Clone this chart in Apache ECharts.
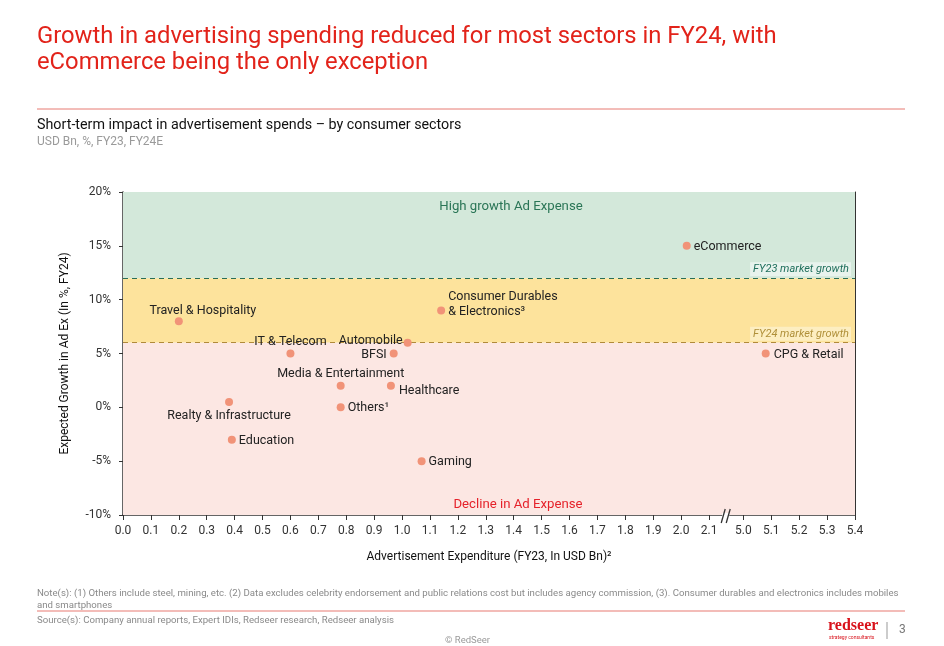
<!DOCTYPE html>
<html>
<head>
<meta charset="utf-8">
<script src="https://cdn.jsdelivr.net/npm/echarts@6/dist/echarts.min.js"></script>
<style>
html,body{margin:0;padding:0;background:#fff;}
#chart{width:944px;height:646px;}
</style>
</head>
<body>
<div id="chart"></div>
<script>
// ---- data ----
const sectors = ['Travel & Hospitality','IT & Telecom','Automobile','BFSI','Media & Entertainment','Healthcare','Others¹','Realty & Infrastructure','Education','Gaming','Consumer Durables\n& Electronics³','eCommerce','CPG & Retail'];
const adSpendFY23 = [0.20, 0.60, 1.02, 0.97, 0.78, 0.96, 0.78, 0.38, 0.39, 1.07, 1.14, 2.02, 5.08];
const growthFY24 = [8, 5, 6, 5, 2, 2, 0, 0.5, -3, -5, 9, 15, 5];
const xTickValues = [0.0,0.1,0.2,0.3,0.4,0.5,0.6,0.7,0.8,0.9,1.0,1.1,1.2,1.3,1.4,1.5,1.6,1.7,1.8,1.9,2.0,2.1,5.0,5.1,5.2,5.3,5.4];
const xTickLabels = ['0.0','0.1','0.2','0.3','0.4','0.5','0.6','0.7','0.8','0.9','1.0','1.1','1.2','1.3','1.4','1.5','1.6','1.7','1.8','1.9','2.0','2.1','5.0','5.1','5.2','5.3','5.4'];
const yTickMin = -10, yTickMax = 20, yTickStep = 5;
const fy23MarketGrowth = 12;
const fy24MarketGrowth = 6;

// ---- axis break mapping (2.1 ... 5.0) ----
const BREAK_FROM = 2.1, BREAK_TO = 5.0, BREAK_POS = 2.223;
function toAxis(v){ return v > (BREAK_FROM + BREAK_TO)/2 ? v - BREAK_TO + BREAK_POS : v; }

// ---- label layout (presentation only) ----
const labelLayout = {
  'Travel & Hospitality': [24,-10,'center'],
  'IT & Telecom': [0,-12,'center'],
  'Automobile': [-5,-2,'right'],
  'BFSI': [-7,1,'right'],
  'Media & Entertainment': [0,-12,'center'],
  'Healthcare': [8,5,'left'],
  'Others¹': [7,1,'left'],
  'Realty & Infrastructure': [0,14,'center'],
  'Education': [7,1,'left'],
  'Gaming': [7,1,'left'],
  'Consumer Durables\n& Electronics³': [7,-6,'left'],
  'eCommerce': [7,1,'left'],
  'CPG & Retail': [8,1,'left']
};

const axisTickPos = xTickValues.map(toAxis);
const axisMax = toAxis(xTickValues[xTickValues.length-1]);

const points = sectors.map((s,i)=>{
  const l = labelLayout[s];
  return {
    name: s,
    value: [toAxis(adSpendFY23[i]), growthFY24[i]],
    label: {offset:[l[0], l[1]], align: l[2]}
  };
});

const FONT = 'Roboto, "Noto Sans", sans-serif';
const chart = echarts.init(document.getElementById('chart'), null, {renderer:'canvas'});

const option = {
  backgroundColor: '#fff',
  animation: false,
  textStyle: {fontFamily: FONT},
  grid: {left:123, right:89, top:192, bottom:131, containLabel:false},
  xAxis: [{
    type:'value', min:0, max:axisMax,
    name: 'Advertisement Expenditure (FY23, In USD Bn)²',
    nameLocation:'middle', nameGap:36,
    nameTextStyle:{color:'#111', fontSize:12, fontFamily:FONT},
    axisLine:{show:true, onZero:false, lineStyle:{color:'#333', width:1.5}},
    axisTick:{show:true, customValues: axisTickPos, length:5, lineStyle:{color:'#333'}},
    axisLabel:{
      show:true, customValues: axisTickPos, margin:10, color:'#333', fontSize:12, fontFamily:FONT,
      formatter: function(v){
        let best=0, d=1e9;
        axisTickPos.forEach((p,i)=>{ if(Math.abs(p-v)<d){d=Math.abs(p-v);best=i;} });
        return xTickLabels[best];
      }
    },
    splitLine:{show:false}
  },{
    type:'value', position:'top', min:0, max:axisMax,
    axisLine:{show:true, onZero:false, lineStyle:{color:'#333', width:1}},
    axisTick:{show:false}, axisLabel:{show:false}, splitLine:{show:false}
  }],
  yAxis: [{
    type:'value', min:yTickMin, max:yTickMax, interval:yTickStep,
    name:'Expected Growth in Ad Ex (In %, FY24)',
    nameLocation:'middle', nameGap:52, nameRotate:90,
    nameTextStyle:{color:'#111', fontSize:12, fontFamily:FONT},
    axisLine:{show:true, onZero:false, lineStyle:{color:'#333', width:1.5}},
    axisTick:{show:true, length:4, lineStyle:{color:'#333'}},
    axisLabel:{formatter:'{value}%', color:'#333', fontSize:12, margin:12, fontFamily:FONT},
    splitLine:{show:false}
  },{
    type:'value', position:'right', min:yTickMin, max:yTickMax,
    axisLine:{show:true, onZero:false, lineStyle:{color:'#333', width:1}},
    axisTick:{show:false}, axisLabel:{show:false}, splitLine:{show:false}
  }],
  series: [{
    type:'scatter',
    symbolSize:8,
    itemStyle:{color:'#f19378', opacity:1},
    label:{show:true, position:'inside', formatter:'{b}', color:'#222', fontSize:12.5, lineHeight:15, fontFamily:FONT},
    data: points,
    z:5,
    markArea:{
      silent:true,
      data:[
        [{yAxis:fy23MarketGrowth, itemStyle:{color:'#d3e8da'},
          label:{show:true, position:'insideTop', offset:[22,3], formatter:'High growth Ad Expense', color:'#2a7556', fontSize:13.2, fontFamily:FONT}},
         {yAxis:yTickMax}],
        [{yAxis:fy24MarketGrowth, itemStyle:{color:'#fde39c'}, label:{show:false}}, {yAxis:fy23MarketGrowth}],
        [{yAxis:yTickMin, itemStyle:{color:'#fce7e3'},
          label:{show:true, position:'insideBottom', offset:[29,1], formatter:'Decline in Ad Expense', color:'#e5222a', fontSize:13.2, fontFamily:FONT}},
         {yAxis:fy24MarketGrowth}]
      ]
    },
    markLine:{
      silent:true, symbol:['none','none'],
      data:[
        {yAxis:fy23MarketGrowth, lineStyle:{color:'#2a6e55', type:[5,4], width:1.2},
          label:{show:true, position:'insideEndTop', formatter:'FY23 market growth', color:'#1f6f5c', fontStyle:'italic', fontSize:11,
            backgroundColor:'rgba(235,245,240,0.85)', padding:[2,2,1,3], distance:[4,2], fontFamily:FONT}},
        {yAxis:fy24MarketGrowth, lineStyle:{color:'#b08a3a', type:[5,4], width:1.2},
          label:{show:true, position:'insideEndTop', formatter:'FY24 market growth', color:'#b0903a', fontStyle:'italic', fontSize:11,
            backgroundColor:'rgba(253,240,200,0.85)', padding:[2,2,1,3], distance:[4,2], fontFamily:FONT}}
      ]
    }
  }],
  graphic: [
    {type:'text', left:37, top:24, style:{text:'Growth in advertising spending reduced for most sectors in FY24, with\neCommerce being the only exception', fill:'#e2231a', font:'23.8px '+FONT, lineHeight:26}},
    {type:'line', shape:{x1:37,y1:109,x2:905,y2:109}, style:{stroke:'#e77b73', lineWidth:1}},
    {type:'text', left:37, top:118, style:{text:'Short-term impact in advertisement spends – by consumer sectors', fill:'#111', font:'14.3px '+FONT}},
    {type:'text', left:37, top:136, style:{text:'USD Bn, %, FY23, FY24E', fill:'#9a9a9a', font:'12px '+FONT}},
    {type:'text', left:37, top:588, style:{text:'Note(s): (1) Others include steel, mining, etc. (2) Data excludes celebrity endorsement and public relations cost but includes agency commission, (3). Consumer durables and electronics includes mobiles\nand smartphones', fill:'#8a8a8a', font:'9.65px '+FONT, lineHeight:12}},
    {type:'line', shape:{x1:37,y1:611,x2:905,y2:611}, style:{stroke:'#e77b73', lineWidth:1.2}},
    {type:'text', left:37, top:616, style:{text:'Source(s): Company annual reports, Expert IDIs, Redseer research, Redseer analysis', fill:'#8a8a8a', font:'9.65px '+FONT}},
    {type:'text', left:445, top:636, style:{text:'© RedSeer', fill:'#9a9a9a', font:'9.5px '+FONT}},
    {type:'text', left:828, top:618, style:{text:'redseer', fill:'#d8121b', font:'bold 16px "Liberation Serif", "DejaVu Serif", serif'}},
    {type:'text', left:829, top:635, style:{text:'strategy consultants', fill:'#d8121b', font:'5px '+FONT}},
    {type:'line', shape:{x1:887,y1:622,x2:887,y2:639}, style:{stroke:'#999', lineWidth:1}},
    {type:'text', left:899, top:624, style:{text:'3', fill:'#777', font:'12px '+FONT}}
  ]
};
chart.setOption(option);

// axis break mark "//"
const mid = chart.convertToPixel({xAxisIndex:0, yAxisIndex:0}, [(BREAK_FROM + BREAK_POS)/2, yTickMin]);
chart.setOption({graphic: option.graphic.concat([
  {type:'rect', shape:{x:mid[0]-4, y:mid[1]-2, width:7, height:4}, style:{fill:'#fff'}, z:100},
  {type:'line', shape:{x1:mid[0]-5, y1:mid[1]+8, x2:mid[0]-1, y2:mid[1]-6}, style:{stroke:'#333', lineWidth:1.3}, z:101},
  {type:'line', shape:{x1:mid[0], y1:mid[1]+8, x2:mid[0]+4, y2:mid[1]-6}, style:{stroke:'#333', lineWidth:1.3}, z:101}
])});
</script>
</body>
</html>
